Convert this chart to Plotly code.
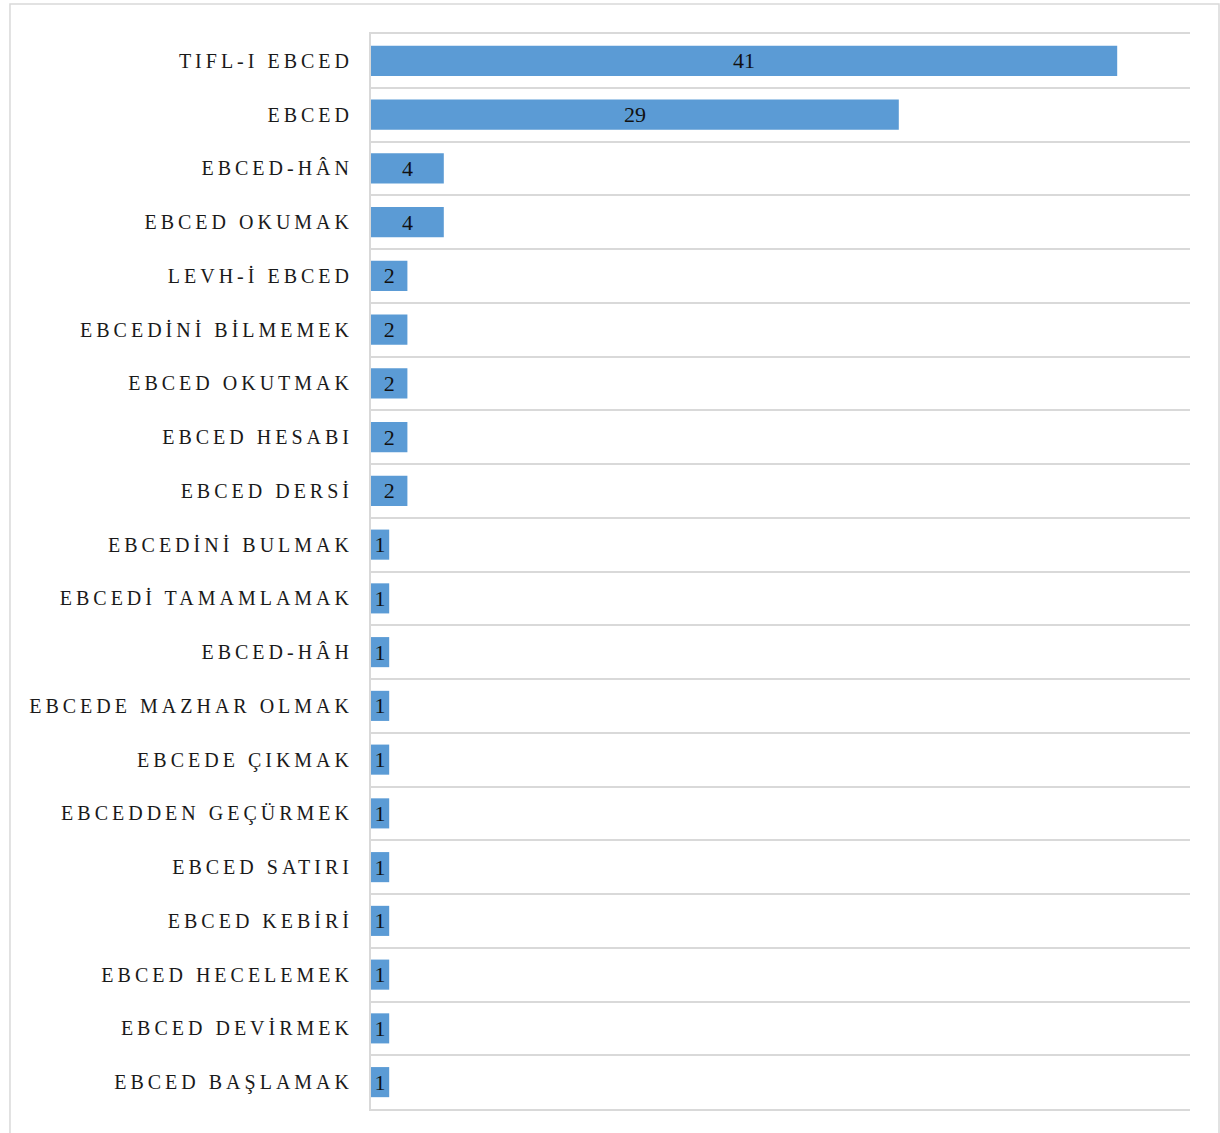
import plotly.graph_objects as go

categories = [
    "TIFL-I EBCED", "EBCED", "EBCED-HÂN", "EBCED OKUMAK", "LEVH-İ EBCED",
    "EBCEDİNİ BİLMEMEK", "EBCED OKUTMAK", "EBCED HESABI", "EBCED DERSİ",
    "EBCEDİNİ BULMAK", "EBCEDİ TAMAMLAMAK", "EBCED-HÂH", "EBCEDE MAZHAR OLMAK",
    "EBCEDE ÇIKMAK", "EBCEDDEN GEÇÜRMEK", "EBCED SATIRI", "EBCED KEBİRİ",
    "EBCED HECELEMEK", "EBCED DEVİRMEK", "EBCED BAŞLAMAK",
]
values = [41, 29, 4, 4, 2, 2, 2, 2, 2, 1, 1, 1, 1, 1, 1, 1, 1, 1, 1, 1]

SERIF = "'Liberation Serif', 'Times New Roman', serif"

fig = go.Figure(
    go.Bar(
        x=values,
        y=categories,
        orientation="h",
        marker=dict(color="#5B9BD5", line=dict(width=0)),
        text=values,
        textposition="inside",
        insidetextanchor="middle",
        textangle=0,
        constraintext="none",
        textfont=dict(family=SERIF, size=22, color="#111111"),
        cliponaxis=False,
    )
)

fig.update_layout(
    width=1220,
    height=1133,
    margin=dict(l=371, r=30, t=34, b=24),
    paper_bgcolor="white",
    plot_bgcolor="white",
    bargap=0.44,
    showlegend=False,
    uniformtext=dict(minsize=22, mode="show"),
    xaxis=dict(
        range=[0, 45],
        showgrid=False,
        showticklabels=False,
        zeroline=False,
        showline=True,
        mirror=True,
        linecolor="#D9D9D9",
        linewidth=2,
        ticks="",
    ),
    yaxis=dict(
        autorange="reversed",
        type="category",
        tickson="boundaries",
        showgrid=True,
        gridcolor="#D9D9D9",
        gridwidth=2,
        showline=True,
        linecolor="#D9D9D9",
        linewidth=2,
        ticks="",
        ticklabelstandoff=12,
        tickfont=dict(family=SERIF, size=20, color="#1a1a1a"),
    ),
    shapes=[
        dict(
            type="rect", xref="paper", yref="paper",
            x0=-0.4408, x1=1.0354, y0=-0.04, y1=1.0279,
            line=dict(color="#D9D9D9", width=1.5),
            fillcolor="rgba(0,0,0,0)", layer="below",
        )
    ],
)

post = (
    "var s=document.createElement('style');"
    "s.textContent='.ytick text{letter-spacing:4px}';"
    "document.head.appendChild(s);"
    "document.body.style.margin='0';"
)

fig.write_html("out.html", post_script=post, config={"displayModeBar": False})
